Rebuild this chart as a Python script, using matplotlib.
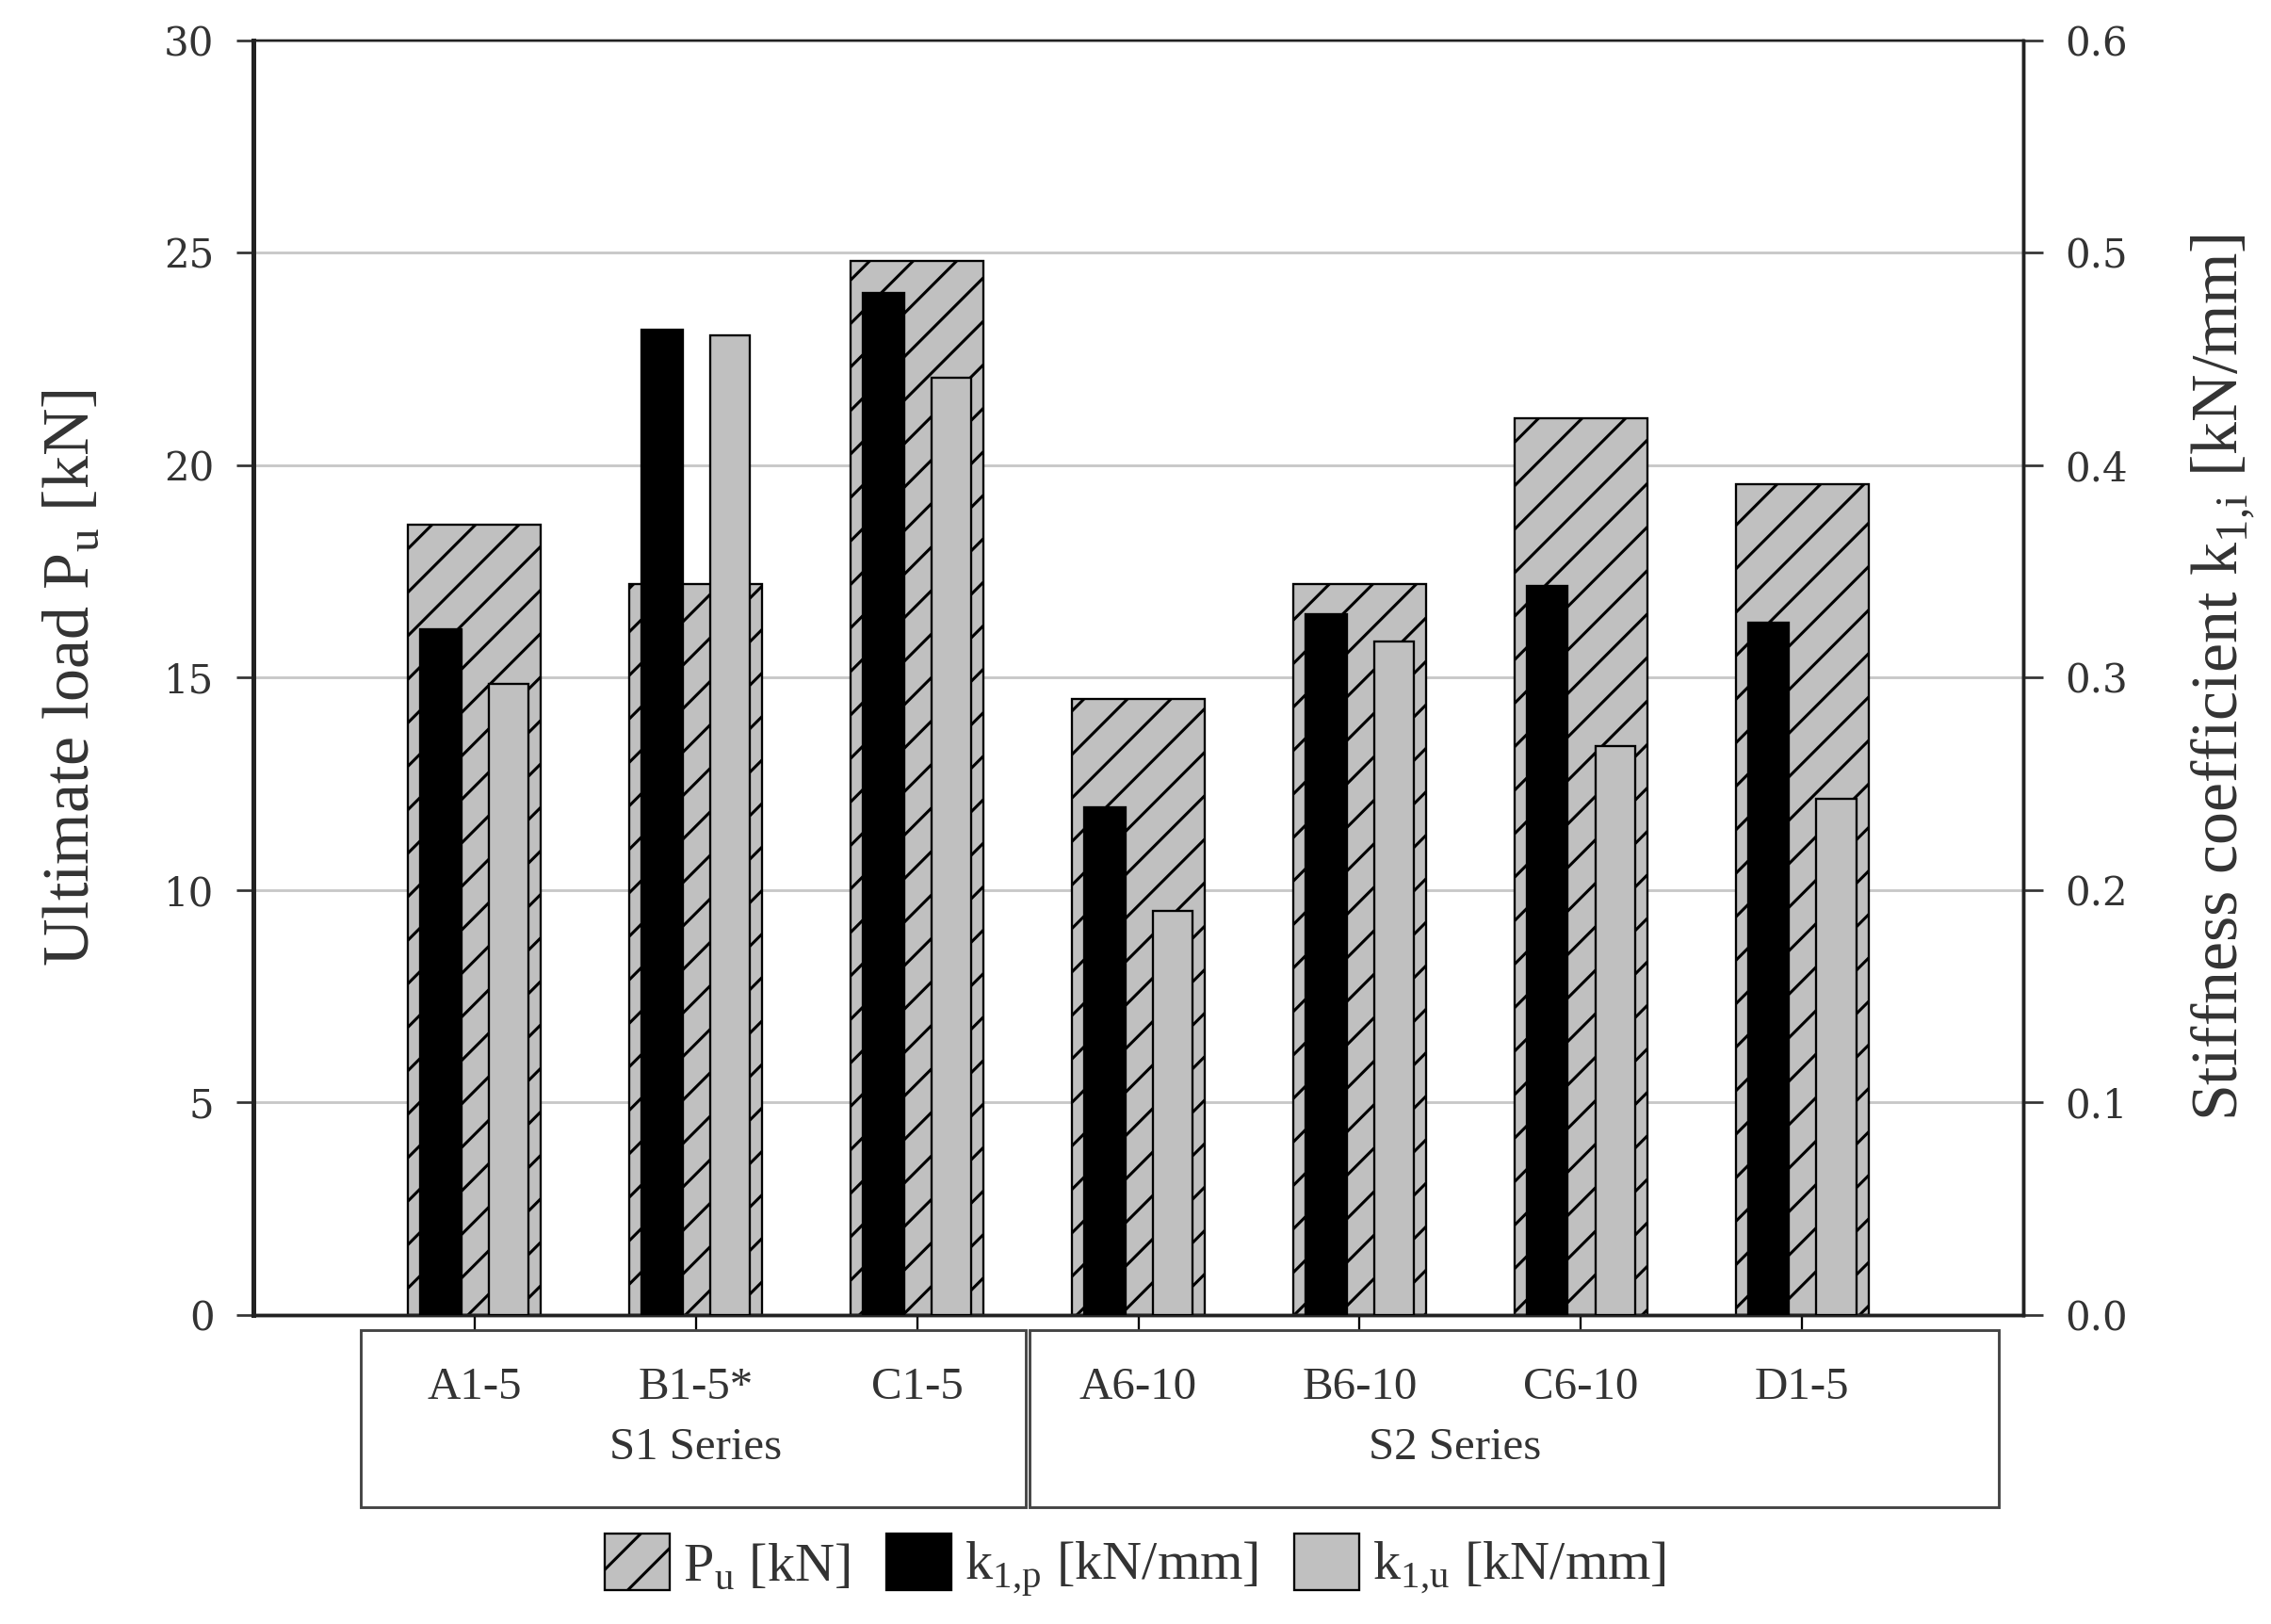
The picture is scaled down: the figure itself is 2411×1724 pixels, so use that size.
import matplotlib
matplotlib.use('Agg')
import matplotlib.pyplot as plt
import matplotlib.transforms as mtransforms
from matplotlib.patches import Rectangle, Patch
import numpy as np

# DATA
specimens = ['A1-5', 'B1-5*', 'C1-5', 'A6-10', 'B6-10', 'C6-10', 'D1-5']
series_names = ['S1 Series', 'S2 Series']
p_u = [18.6, 17.2, 24.8, 14.5, 17.2, 21.1, 19.55]          # kN
k_1p = [0.323, 0.464, 0.481, 0.239, 0.330, 0.343, 0.326]   # kN/mm
k_1u = [0.297, 0.461, 0.441, 0.190, 0.317, 0.268, 0.243]   # kN/mm

plt.rcParams['font.family'] = ['Liberation Serif', 'DejaVu Serif']
plt.rcParams['mathtext.fontset'] = 'custom'
plt.rcParams['mathtext.rm'] = 'Liberation Serif'
plt.rcParams['hatch.linewidth'] = 0.8

# dpi picked so the hatch spacing comes out like the original
DPI = 277
fig = plt.figure(figsize=(2411 / DPI, 1724 / DPI), dpi=DPI)
ax = fig.add_axes([0.1116, 0.1903, 0.7793, 0.7848])
ax2 = ax.twinx()

x = np.arange(len(specimens))
gray = '#c0c0c0'

# ultimate load, hatched wide bars
ax.bar(x, p_u, width=0.6, color=gray, edgecolor='black', linewidth=0.6,
       hatch='//', zorder=2)
# stiffness coefficients on the right axis
ax2.bar(x - 0.152, k_1p, width=0.186, color='black', edgecolor='black',
        linewidth=0.6, zorder=3)
ax2.bar(x + 0.155, k_1u, width=0.18, color=gray, edgecolor='black',
        linewidth=0.6, zorder=3)

ax.set_xlim(-1, 7)
ax.set_ylim(0, 30)
ax2.set_ylim(0, 0.6)
ax.set_yticks(np.arange(0, 31, 5))
ax2.set_yticks(np.arange(0, 0.61, 0.1))
ax2.set_yticklabels([f'{v:.1f}' for v in np.arange(0, 0.61, 0.1)])

ax.set_axisbelow(True)
ax.yaxis.grid(True, color='#c8c8c8', linewidth=0.75)

for a in (ax, ax2):
    for s in a.spines.values():
        s.set_linewidth(0.9)
        s.set_color('#222222')
    a.spines['top'].set_linewidth(0.6)
ax.spines['left'].set_linewidth(1.3)

ax.set_xticks(x)
ax.set_xticklabels([])
ax.tick_params(axis='x', length=4.1, width=0.6, direction='out')
ax.tick_params(axis='y', length=4.8, width=0.7, pad=6, labelsize=10.9,
               labelfontfamily='DejaVu Serif', colors='#333333')
ax2.tick_params(axis='y', length=5.5, width=0.7, pad=6, labelsize=10.9,
                labelfontfamily='DejaVu Serif', colors='#333333')

ax.set_ylabel('Ultimate load P$_\\mathrm{u}$ [kN]', fontsize=18.2,
              labelpad=17, color='#333333')
ax2.set_ylabel('Stiffness coefficient k$_\\mathrm{1{,}i}$ [kN/mm]',
               fontsize=18.2, labelpad=17, color='#333333')

# category boxes below the axis
trans = mtransforms.blended_transform_factory(ax.transData, ax.transAxes)
box_spans = [(-0.515, 2.49), (2.51, 6.89)]
for (x0, x1) in box_spans:
    ax.add_patch(Rectangle((x0, -0.1508), x1 - x0, 0.139, transform=trans,
                           fill=False, edgecolor='#444444', linewidth=0.75,
                           clip_on=False))
for xi, name in zip(x, specimens):
    ax.text(xi, -0.057, name, transform=trans, ha='center', va='center',
            fontsize=12.7, color='#333333')
series_x = [1.0, 4.43]
for sx, name in zip(series_x, series_names):
    ax.text(sx, -0.104, name, transform=trans, ha='center', va='center',
            fontsize=12.7, color='#333333')

handles = [
    Patch(facecolor=gray, edgecolor='black', linewidth=0.6, hatch='//'),
    Patch(facecolor='black', edgecolor='black', linewidth=0.6),
    Patch(facecolor=gray, edgecolor='black', linewidth=0.6),
]
labels = ['P$_\\mathrm{u}$ [kN]', 'k$_\\mathrm{1{,}p}$ [kN/mm]',
          'k$_\\mathrm{1{,}u}$ [kN/mm]']
fig.legend(handles, labels, loc='center', bbox_to_anchor=(0.5, 0.0354),
           ncol=3, frameon=False, fontsize=15.2, handlelength=1.18,
           handleheight=1.2, handletextpad=0.24, columnspacing=0.65,
           labelcolor='#333333')

fig.savefig('out.png', dpi=DPI)
